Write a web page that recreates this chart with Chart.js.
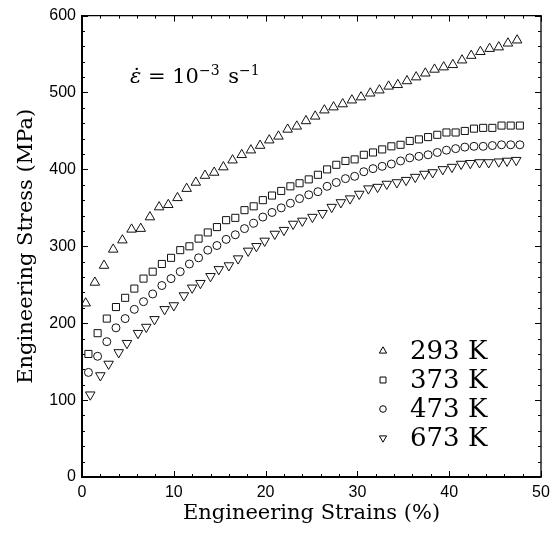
<!DOCTYPE html>
<html>
<head>
<meta charset="utf-8">
<script src="https://cdn.jsdelivr.net/npm/chart.js@4.4.0/dist/chart.umd.min.js"></script>
<style>
  body { margin: 0; background: #fff; }
  #wrap { width: 559px; height: 533px; }
</style>
</head>
<body>
<div id="wrap"><canvas id="ch" width="559" height="533"></canvas></div>
<script>
// temperatures (legend labels)
var labels = ['293 K', '373 K', '473 K', '673 K'];

// strain (%)
var strain293 = [0.4, 1.4, 2.4, 3.4, 4.4, 5.4, 6.4, 7.4, 8.4, 9.4, 10.4, 11.4, 12.4, 13.4, 14.4, 15.4,
  16.4, 17.4, 18.4, 19.4, 20.4, 21.4, 22.4, 23.4, 24.4, 25.4, 26.4, 27.4, 28.4, 29.4, 30.4, 31.4,
  32.4, 33.4, 34.4, 35.4, 36.4, 37.4, 38.4, 39.4, 40.4, 41.4, 42.4, 43.4, 44.4, 45.4, 46.4, 47.4];
var strainMid = [0.7, 1.7, 2.7, 3.7, 4.7, 5.7, 6.7, 7.7, 8.7, 9.7, 10.7, 11.7, 12.7, 13.7, 14.7, 15.7,
  16.7, 17.7, 18.7, 19.7, 20.7, 21.7, 22.7, 23.7, 24.7, 25.7, 26.7, 27.7, 28.7, 29.7, 30.7, 31.7,
  32.7, 33.7, 34.7, 35.7, 36.7, 37.7, 38.7, 39.7, 40.7, 41.7, 42.7, 43.7, 44.7, 45.7, 46.7, 47.7];
var strain673 = [0.9, 2.0, 2.9, 4.0, 4.9, 6.1, 7.0, 7.9, 9.0, 10.0, 11.1, 12.0, 12.9, 14.0, 14.9, 16.0,
  17.0, 18.1, 19.0, 19.9, 21.0, 22.0, 23.0, 24.0, 25.1, 26.2, 27.2, 28.2, 29.2, 30.2, 31.2, 32.2,
  33.2, 34.3, 35.3, 36.3, 37.3, 38.2, 39.3, 40.3, 41.3, 42.3, 43.3, 44.3, 45.4, 46.3, 47.3];

// stress (MPa)
var stress293 = [226, 253, 275, 296, 308, 322, 323, 338, 351, 354, 363, 375, 383, 392, 396, 403,
  412, 419, 425, 431, 438, 443, 452, 456, 463, 469, 477, 481, 485, 490, 494, 499,
  503, 508, 510, 515, 520, 525, 530, 533, 536, 542, 548, 553, 557, 559, 564, 568];
var stress373 = [160, 187, 206, 221, 233, 245, 258, 267, 277, 285, 295, 300, 310, 318, 325, 334,
  337, 347, 352, 360, 366, 372, 378, 382, 387, 393, 400, 406, 411, 413, 419, 422,
  426, 430, 432, 437, 439, 442, 445, 448, 448, 450, 453, 454, 454, 457, 457, 457];
var stress473 = [136, 157, 176, 194, 206, 218, 228, 238, 249, 258, 267, 277, 285, 295, 301, 309,
  315, 323, 330, 338, 344, 350, 356, 362, 367, 371, 378, 383, 388, 391, 397, 401,
  404, 407, 411, 415, 417, 419, 422, 425, 427, 429, 430, 430, 431, 432, 432, 432];
var stress673 = [107, 132, 147, 162, 174, 187, 195, 205, 218, 223, 236, 246, 252, 261, 270, 275,
  284, 294, 300, 307, 316, 321, 329, 333, 338, 343, 351, 357, 362, 368, 375, 377,
  381, 383, 386, 390, 394, 396, 400, 403, 407, 408, 409, 409, 410, 411, 412];

function pts(xs, ys) {
  return xs.map(function (x, i) { return { x: x, y: ys[i] }; });
}

var serif = "'DejaVu Serif', serif";

// inward ticks on all four sides + frame
var frameTicks = {
  id: 'frameTicks',
  beforeDatasetsDraw: function (chart) {
    var ctx = chart.ctx, a = chart.chartArea;
    var xs = chart.scales.x, ys = chart.scales.y;
    ctx.save();
    ctx.strokeStyle = '#000';
    ctx.lineWidth = 1;
    ctx.beginPath();
    for (var v = 0; v <= 50; v += 2) {
      var px = Math.round(xs.getPixelForValue(v)) + 0.5;
      var len = v % 10 === 0 ? 6 : 3;
      ctx.moveTo(px, a.bottom); ctx.lineTo(px, a.bottom - len);
      ctx.moveTo(px, a.top); ctx.lineTo(px, a.top + len);
    }
    for (var w = 0; w <= 600; w += 20) {
      var py = Math.round(ys.getPixelForValue(w)) + 0.5;
      var l2 = w % 100 === 0 ? 6 : 3;
      ctx.moveTo(a.left, py); ctx.lineTo(a.left + l2, py);
      ctx.moveTo(a.right, py); ctx.lineTo(a.right - l2, py);
    }
    ctx.stroke();
    ctx.lineWidth = 1.3;
    ctx.beginPath();
    ctx.moveTo(a.left, a.top); ctx.lineTo(a.right, a.top); ctx.lineTo(a.right, a.bottom);
    ctx.stroke();
    ctx.lineWidth = 2;
    ctx.beginPath();
    ctx.moveTo(a.left, a.top - 0.6); ctx.lineTo(a.left, a.bottom); ctx.lineTo(a.right + 0.6, a.bottom);
    ctx.stroke();
    ctx.restore();
  }
};

// legend inside the plot, lower right
var legendBox = {
  id: 'legendBox',
  afterDraw: function (chart) {
    var ctx = chart.ctx, a = chart.chartArea;
    var x0 = a.right - 158, y0 = a.bottom - 126;
    ctx.save();
    ctx.font = '26px ' + serif;
    ctx.textBaseline = 'middle';
    ctx.textAlign = 'left';
    chart.data.datasets.forEach(function (ds, i) {
      var y = y0 + i * 29;
      ctx.fillStyle = 'rgba(0,0,0,0)';
      ctx.strokeStyle = '#000';
      ctx.lineWidth = 1;
      Chart.helpers.drawPoint(ctx, {
        pointStyle: ds.pointStyle,
        rotation: ds.rotation || 0,
        radius: ds.pointStyle === 'circle' ? 3.3 : 4.2,
        borderWidth: 1
      }, x0, y);
      ctx.fillStyle = '#000';
      ctx.fillText(ds.label, x0 + 27, y + 1);
    });
    ctx.restore();
  }
};

// strain rate note, top left
var rateNote = {
  id: 'rateNote',
  afterDraw: function (chart) {
    var ctx = chart.ctx, a = chart.chartArea;
    var x = a.left + 48, y = a.top + 67;
    ctx.save();
    ctx.fillStyle = '#000';
    ctx.textBaseline = 'alphabetic';
    ctx.textAlign = 'left';
    var parts = [
      ['italic 21px ' + serif, '\u03B5\u0307', 0, 0],
      ['21px ' + serif, ' = 10', 0, 0],
      ['14px ' + serif, '\u22123', -8, 0],
      ['21px ' + serif, ' s', 0, 2],
      ['14px ' + serif, '\u22121', -8, 0]
    ];
    parts.forEach(function (p) {
      ctx.font = p[0];
      x += p[3];
      ctx.fillText(p[1], x, y + p[2]);
      x += ctx.measureText(p[1]).width;
    });
    ctx.restore();
  }
};

var ctx = document.getElementById('ch').getContext('2d');
var myChart = new Chart(ctx, {
  type: 'scatter',
  data: {
    datasets: [
      { label: labels[0], data: pts(strain293, stress293), pointStyle: 'triangle', pointRadius: 5.5 },
      { label: labels[1], data: pts(strainMid, stress373), pointStyle: 'rect', pointRadius: 5 },
      { label: labels[2], data: pts(strainMid, stress473), pointStyle: 'circle', pointRadius: 4 },
      { label: labels[3], data: pts(strain673, stress673), pointStyle: 'triangle', rotation: 180, pointRadius: 5.5 }
    ].map(function (d) {
      d.showLine = false;
      d.borderColor = '#111';
      d.backgroundColor = 'rgba(0,0,0,0)';
      d.borderWidth = 1;
      d.pointRotation = d.rotation || 0;
      return d;
    })
  },
  options: {
    responsive: false,
    animation: false,
    events: [],
    layout: { padding: { top: 15, right: 18, left: 0, bottom: 0 } },
    plugins: {
      legend: { display: false },
      tooltip: { enabled: false }
    },
    scales: {
      x: {
        type: 'linear',
        min: 0,
        max: 50,
        afterFit: function (s) { s.height = 56; },
        grid: { display: false, drawTicks: false },
        border: { display: false },
        ticks: {
          stepSize: 10,
          padding: 6,
          color: '#000',
          font: { family: "'Liberation Sans', Arial, sans-serif", size: 16 }
        },
        title: {
          display: true,
          text: 'Engineering Strains (%)',
          color: '#000',
          font: { family: serif, size: 21 },
          padding: { top: 0, bottom: 7 }
        }
      },
      y: {
        type: 'linear',
        min: 0,
        max: 600,
        afterFit: function (s) { s.width = 82; },
        grid: { display: false, drawTicks: false },
        border: { display: false },
        ticks: {
          stepSize: 100,
          padding: 6,
          color: '#000',
          font: { family: "'Liberation Sans', Arial, sans-serif", size: 16 }
        },
        title: {
          display: true,
          text: 'Engineering Stress (MPa)',
          color: '#000',
          font: { family: serif, size: 21 },
          padding: { top: 14, bottom: 0 }
        }
      }
    }
  },
  plugins: [frameTicks, legendBox, rateNote]
});
</script>
</body>
</html>
